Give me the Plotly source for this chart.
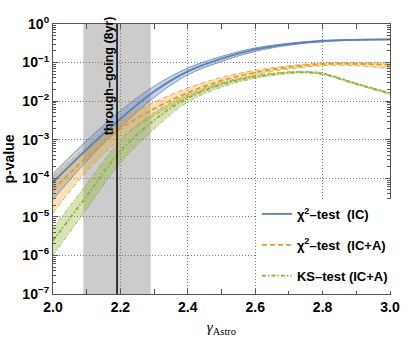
import plotly.graph_objects as go

# gamma_astro grid (shared by the two chi^2 curves)
GAMMA = [2.0, 2.1, 2.2, 2.3, 2.4, 2.5, 2.6, 2.7, 2.8, 2.9, 3.0]

# chi^2-test (IC): central value and band
CHI_IC = [7.9e-5, 5.6e-4, 3.5e-3, 1.78e-2, 5.9e-2, 0.126, 0.219, 0.302, 0.363, 0.389, 0.398]
CHI_IC_HI = [1.32e-4, 9.5e-4, 5.6e-3, 2.45e-2, 7.2e-2, 0.145, 0.24, 0.316, 0.372, 0.398, 0.407]
CHI_IC_LO = [2.8e-5, 2.8e-4, 2.1e-3, 1.25e-2, 4.8e-2, 0.107, 0.195, 0.282, 0.347, 0.380, 0.389]

# chi^2-test (IC+A)
CHI_ICA = [5.0e-5, 3.5e-4, 1.9e-3, 6.3e-3, 1.66e-2, 3.4e-2, 5.5e-2, 7.6e-2, 9.1e-2, 9.3e-2, 8.7e-2]
CHI_ICA_HI = [1.1e-4, 6.6e-4, 3.2e-3, 9.3e-3, 2.2e-2, 4.1e-2, 6.3e-2, 8.3e-2, 9.8e-2, 0.1, 9.8e-2]
CHI_ICA_LO = [1.26e-5, 1.5e-4, 1.05e-3, 4.2e-3, 1.26e-2, 2.8e-2, 4.8e-2, 6.8e-2, 8.3e-2, 8.3e-2, 6.9e-2]

# KS-test (IC+A)
GAMMA_KS = [2.0, 2.1, 2.2, 2.3, 2.4, 2.5, 2.6, 2.7, 2.75, 2.8, 2.9, 3.0]
KS_ICA = [2.4e-6, 3.5e-5, 5.0e-4, 3.2e-3, 1.2e-2, 2.7e-2, 4.3e-2, 5.5e-2, 5.6e-2, 5.1e-2, 2.8e-2, 1.6e-2]
KS_ICA_HI = [5.0e-6, 7.1e-5, 9.5e-4, 5.0e-3, 1.48e-2, 3.0e-2, 4.6e-2, 5.8e-2, 5.9e-2, 5.4e-2, 2.95e-2, 1.66e-2]
KS_ICA_LO = [1.0e-6, 1.6e-5, 2.5e-4, 1.9e-3, 9.5e-3, 2.3e-2, 3.9e-2, 5.2e-2, 5.4e-2, 4.9e-2, 2.7e-2, 1.5e-2]

# through-going (8yr) best fit and 1 sigma range
TG_BEST = 2.19
TG_RANGE = [2.09, 2.29]

Y_TICKS = [1e-7, 1e-6, 1e-5, 1e-4, 1e-3, 1e-2, 1e-1, 1]
Y_TICKTEXT = ["<b>10<sup>−7</sup></b>", "<b>10<sup>−6</sup></b>", "<b>10<sup>−5</sup></b>",
              "<b>10<sup>−4</sup></b>", "<b>10<sup>−3</sup></b>", "<b>10<sup>−2</sup></b>",
              "<b>10<sup>−1</sup></b>", "<b>10<sup>0</sup></b>"]
X_TICKS = [2.0, 2.2, 2.4, 2.6, 2.8, 3.0]

series = [
    ("<b>χ<sup>2</sup>–test  (IC)</b>", GAMMA, CHI_IC, CHI_IC_LO, CHI_IC_HI,
     "#5E81B5", "rgba(94,129,181,0.35)", "solid"),
    ("<b>χ<sup>2</sup>–test  (IC+A)</b>", GAMMA, CHI_ICA, CHI_ICA_LO, CHI_ICA_HI,
     "#E19C24", "rgba(225,156,36,0.3)", "5px,3px"),
    ("<b>KS–test (IC+A)</b>", GAMMA_KS, KS_ICA, KS_ICA_LO, KS_ICA_HI,
     "#8FB032", "rgba(143,176,50,0.35)", "4px,2px,1.5px,2px"),
]

fig = go.Figure()
for i, (name, xs, mid, lo, hi, color, fill, dash) in enumerate(series):
    fig.add_trace(go.Scatter(
        x=xs, y=lo, mode="lines", line=dict(color=color, width=0.8, dash=dash, shape="spline"),
        showlegend=False, hoverinfo="skip",
    ))
    fig.add_trace(go.Scatter(
        x=xs, y=hi, mode="lines", line=dict(color=color, width=0.8, dash=dash, shape="spline"),
        fill="tonexty", fillcolor=fill, showlegend=False, hoverinfo="skip",
    ))
for i, (name, xs, mid, lo, hi, color, fill, dash) in enumerate(series):
    fig.add_trace(go.Scatter(
        x=xs, y=mid, mode="lines", name=name, legendgroup=str(i),
        line=dict(color=color, width=1.8, dash=dash, shape="spline"),
    ))

fig.add_vrect(x0=TG_RANGE[0], x1=TG_RANGE[1], fillcolor="#CCCCCC", line_width=0, layer="below")
fig.add_vline(x=TG_BEST, line=dict(color="black", width=1.5))
fig.add_annotation(
    x=2.166, y=-1.33, text="<b>through–going (8yr)</b>", textangle=-90,
    showarrow=False, font=dict(size=12.5, color="black", family="Liberation Sans"),
)

axis_common = dict(
    showline=True, linecolor="#555555", linewidth=1.2, mirror="allticks",
    ticks="inside", tickcolor="#555555", ticklen=5,
    showgrid=True, gridcolor="#777777", griddash="1px,2px", gridwidth=1,
    zeroline=False, automargin=False,
    tickfont=dict(size=14, color="black", family="Liberation Sans"),
)

fig.update_xaxes(
    **axis_common, range=[2.0, 3.0], tickvals=X_TICKS,
    ticktext=[f"<b>{v:.1f}</b>" for v in X_TICKS],
    minor=dict(ticks="inside", ticklen=5, dtick=0.1, tickcolor="#555555", showgrid=False),
    title=dict(text="<i>γ</i><sub>Astro</sub>", font=dict(size=15, family="Liberation Serif", color="black"),
               standoff=12),
)
fig.update_yaxes(
    **axis_common, type="log", range=[-7, 0], tickvals=Y_TICKS, ticktext=Y_TICKTEXT,
    minor=dict(ticks="inside", ticklen=3, dtick="D1", tickcolor="#555555", showgrid=False),
    title=dict(text="<b>p-value</b>", font=dict(size=14, family="Liberation Sans", color="black"),
               standoff=4),
)

fig.update_layout(
    width=415, height=337,
    margin=dict(l=53, r=25, t=24, b=43),
    plot_bgcolor="white", paper_bgcolor="white",
    legend=dict(
        x=0.605, y=0.352, xanchor="left", yanchor="top",
        bgcolor="white", borderwidth=0, tracegroupgap=11,
        font=dict(size=13, color="black", family="Liberation Sans"),
    ),
    showlegend=True,
)

fig.write_html("out.html", config={"displayModeBar": False},
               post_script="document.body.style.margin='0';")
